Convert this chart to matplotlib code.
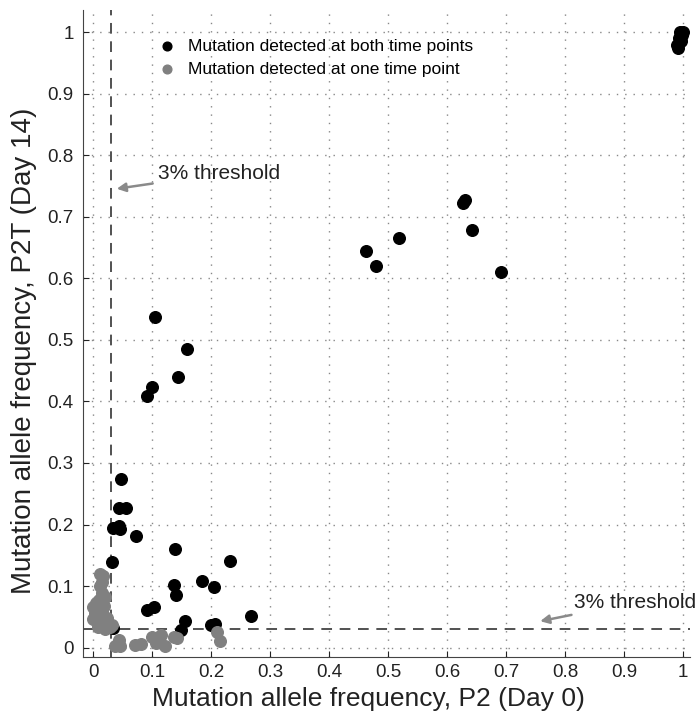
import matplotlib
matplotlib.use('Agg')
import matplotlib.pyplot as plt

plt.rcParams['font.family'] = ['Liberation Sans', 'DejaVu Sans']

THRESHOLD = 0.03

# mutations seen at both time points (Day 0, Day 14)
both_x = [0.995, 1.0, 0.998, 0.993, 0.997, 0.99, 0.992,
          0.462, 0.48, 0.518, 0.627, 0.63, 0.642, 0.692,
          0.104, 0.159, 0.144, 0.100, 0.091,
          0.047, 0.044, 0.056, 0.034, 0.044, 0.046, 0.073, 0.139, 0.031,
          0.232, 0.137, 0.141, 0.185, 0.205, 0.091, 0.103, 0.268, 0.156,
          0.149, 0.200, 0.207, 0.034]
both_y = [1.0, 1.0, 0.995, 0.99, 0.985, 0.98, 0.975,
          0.645, 0.62, 0.665, 0.722, 0.727, 0.678, 0.61,
          0.537, 0.486, 0.44, 0.424, 0.409,
          0.274, 0.227, 0.227, 0.194, 0.197, 0.192, 0.181, 0.16, 0.139,
          0.141, 0.102, 0.086, 0.108, 0.099, 0.061, 0.066, 0.052, 0.044,
          0.028, 0.036, 0.039, 0.032]

# mutations seen at one time point only
one_x = [0.012, 0.016, 0.014, 0.012, 0.015, 0.02, 0.01, 0.005, 0.012, 0.018,
         0.0, 0.006, 0.015, 0.002, 0.008, 0.018, 0.024, 0.0, 0.006, 0.014,
         0.022, 0.028, 0.032, 0.008, 0.02,
         0.044, 0.046, 0.036, 0.071, 0.08, 0.1, 0.114, 0.107, 0.137, 0.142,
         0.122, 0.21, 0.214]
one_y = [0.12, 0.116, 0.107, 0.1, 0.088, 0.082, 0.078, 0.072, 0.07, 0.068,
         0.066, 0.062, 0.06, 0.056, 0.052, 0.05, 0.048, 0.046, 0.042, 0.04,
         0.036, 0.034, 0.036, 0.034, 0.03,
         0.013, 0.002, 0.003, 0.004, 0.006, 0.018, 0.02, 0.008, 0.018, 0.015,
         0.003, 0.026, 0.01]

ticks = [0, 0.1, 0.2, 0.3, 0.4, 0.5, 0.6, 0.7, 0.8, 0.9, 1]
tick_labels = ['0', '0.1', '0.2', '0.3', '0.4', '0.5', '0.6', '0.7', '0.8', '0.9', '1']

fig = plt.figure(figsize=(7, 7.21), dpi=100)
ax = fig.add_axes([0.119, 0.089, 0.867, 0.897])

ax.scatter(both_x, both_y, s=70, color='black', zorder=3,
           label='Mutation detected at both time points')
ax.scatter(one_x, one_y, s=70, color='#808080', zorder=3,
           label='Mutation detected at one time point')

ax.axvline(THRESHOLD, color='#222222', linestyle=(0, (7, 5)), linewidth=1.1, zorder=2)
ax.axhline(THRESHOLD, color='#222222', linestyle=(0, (7, 5)), linewidth=1.1, zorder=2)

arrow = dict(arrowstyle='-|>', color='#8a8a8a', lw=1.8, mutation_scale=13)
ax.annotate('3% threshold', xy=(0.035, 0.745), xytext=(0.11, 0.770),
            fontsize=15, va='center', color='#222222', arrowprops=arrow)
ax.annotate('3% threshold', xy=(0.753, 0.042), xytext=(0.815, 0.074),
            fontsize=15, va='center', color='#222222', arrowprops=arrow)

ax.set_xlim(-0.017, 1.012)
ax.set_ylim(-0.015, 1.036)
ax.set_xticks(ticks)
ax.set_xticklabels(tick_labels)
ax.set_yticks(ticks)
ax.set_yticklabels(tick_labels)
ax.tick_params(direction='in', length=4, labelsize=13.5, pad=7, colors='#222222')
ax.tick_params(axis='x', pad=5)
ax.grid(True, linestyle=(0, (1, 5)), color='#888888', linewidth=1)
ax.set_axisbelow(True)

ax.spines['top'].set_visible(False)
ax.spines['right'].set_visible(False)
ax.spines['left'].set_color('#444444')
ax.spines['bottom'].set_color('#444444')

ax.set_xlabel('Mutation allele frequency, P2 (Day 0)', fontsize=19, color='#222222')
ax.set_ylabel('Mutation allele frequency, P2T (Day 14)', fontsize=20, color='#222222')
ax.xaxis.set_label_coords(0.47, -0.047)
ax.yaxis.set_label_coords(-0.076, 0.473)

ax.legend(loc='upper left', bbox_to_anchor=(0.09, 0.975), frameon=False,
          fontsize=12.5, handletextpad=0.2, borderpad=0.2, labelspacing=0.45,
          markerscale=0.75)

fig.savefig('out.png', dpi=100)
